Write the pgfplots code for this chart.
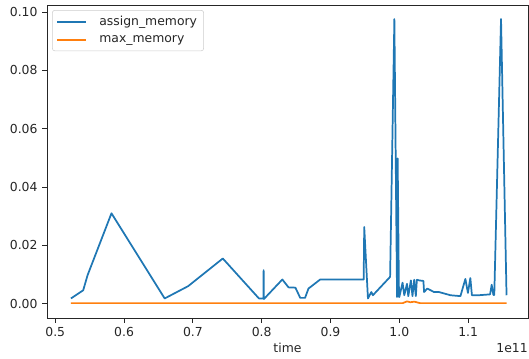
\documentclass[border=0pt]{standalone}
\usepackage{fontspec}
\setmainfont{DejaVu Sans}
\usepackage{pgfplots}
\pgfplotsset{compat=1.18}
\definecolor{mplblue}{HTML}{1F77B4}
\definecolor{mplorange}{HTML}{FF7F0E}
\begin{document}
\begin{tikzpicture}
\begin{axis}[
  at={(0,0)}, anchor=south west,
  scale only axis, width=360.75pt, height=234.75pt,
  xmin=0.488, xmax=1.187, ymin=-0.0049, ymax=0.1024,
  xtick={0.5,0.6,0.7,0.8,0.9,1.0,1.1},
  ytick={0,0.02,0.04,0.06,0.08,0.10},
  scaled x ticks=false, scaled y ticks=false,
  x tick label style={/pgf/number format/.cd, fixed, precision=1, fixed zerofill},
  y tick label style={/pgf/number format/.cd, fixed, precision=2, fixed zerofill},
  /pgf/number format/assume math mode=true,
  tick align=outside, xtick pos=bottom, ytick pos=left,
  major tick length=3.6pt,
  tick style={black!85, line width=0.6pt},
  axis line style={black!85, line width=0.6pt},
  tick label style={font=\fontsize{9.3}{11}\selectfont, text=black!85},
  xlabel={time},
  xlabel style={at={(axis description cs:0.5,0)}, anchor=center, yshift=-22.5pt, font=\fontsize{9.3}{11}\selectfont, text=black!85},
  legend style={at={(0.0104,0.984)}, anchor=north west, draw=black!20, rounded corners=2pt,
    font=\fontsize{9.3}{11}\selectfont, text=black!85, row sep=2.2pt, inner xsep=3pt, inner ysep=2.5pt},
  legend cell align=left,
  legend image code/.code={\draw[#1, line width=1.3pt] (0pt,0.25pt) -- (22pt,0.25pt); \path (29pt,0pt);},
]
\addplot[color=mplblue, line width=1.3pt, line join=round] coordinates {
(0.5228,0.0018) (0.5406,0.0046) (0.547,0.0098) (0.5817,0.0310) (0.659,0.0018)
(0.693,0.0060) (0.7435,0.0155) (0.796,0.0018) (0.8025,0.0018) (0.8028,0.0115)
(0.8032,0.0016) (0.830,0.0083) (0.839,0.0056) (0.849,0.0055) (0.856,0.0020)
(0.863,0.0020) (0.868,0.0052) (0.885,0.0083) (0.9482,0.0083) (0.9490,0.0263)
(0.9544,0.0018) (0.9593,0.0040) (0.9616,0.0029) (0.9866,0.0092) (0.9928,0.0976)
(0.9967,0.0023) (0.9976,0.0498) (0.9995,0.0023) (1.0000,0.0023) (1.0047,0.0072)
(1.0072,0.0029) (1.0111,0.0068) (1.0130,0.0026) (1.0168,0.0080) (1.0191,0.0026)
(1.0216,0.0082) (1.0240,0.0026) (1.0255,0.0082) (1.0288,0.0080) (1.0350,0.0078)
(1.0360,0.0040) (1.0407,0.0052) (1.0504,0.0040) (1.0576,0.0040) (1.0744,0.0029)
(1.0888,0.0026) (1.0960,0.0085) (1.0997,0.0037) (1.1032,0.0088) (1.1055,0.0029)
(1.1151,0.0029) (1.1319,0.0032) (1.1342,0.0065) (1.1367,0.0030) (1.1380,0.0030)
(1.1478,0.0976) (1.1558,0.0029)
};
\addlegendentry{assign\_memory\hspace{7pt}}
\addplot[color=mplorange, line width=1.3pt, line join=round] coordinates {
(0.5228,0.0002) (0.8800,0.0002) (1.0050,0.0002) (1.0111,0.0008) (1.0160,0.0005)
(1.0220,0.0007) (1.0300,0.0002) (1.1558,0.0002)
};
\addlegendentry{max\_memory}
\end{axis}
\node[anchor=east, font=\fontsize{9.3}{11}\selectfont, text=black!85, inner sep=0pt] at ([yshift=-22.5pt]current axis.south east) {1e11};
\pgfresetboundingbox
\path[use as bounding box] (-35.25pt,-30pt) rectangle (361.5pt,238.5pt);
\end{tikzpicture}
\end{document}
